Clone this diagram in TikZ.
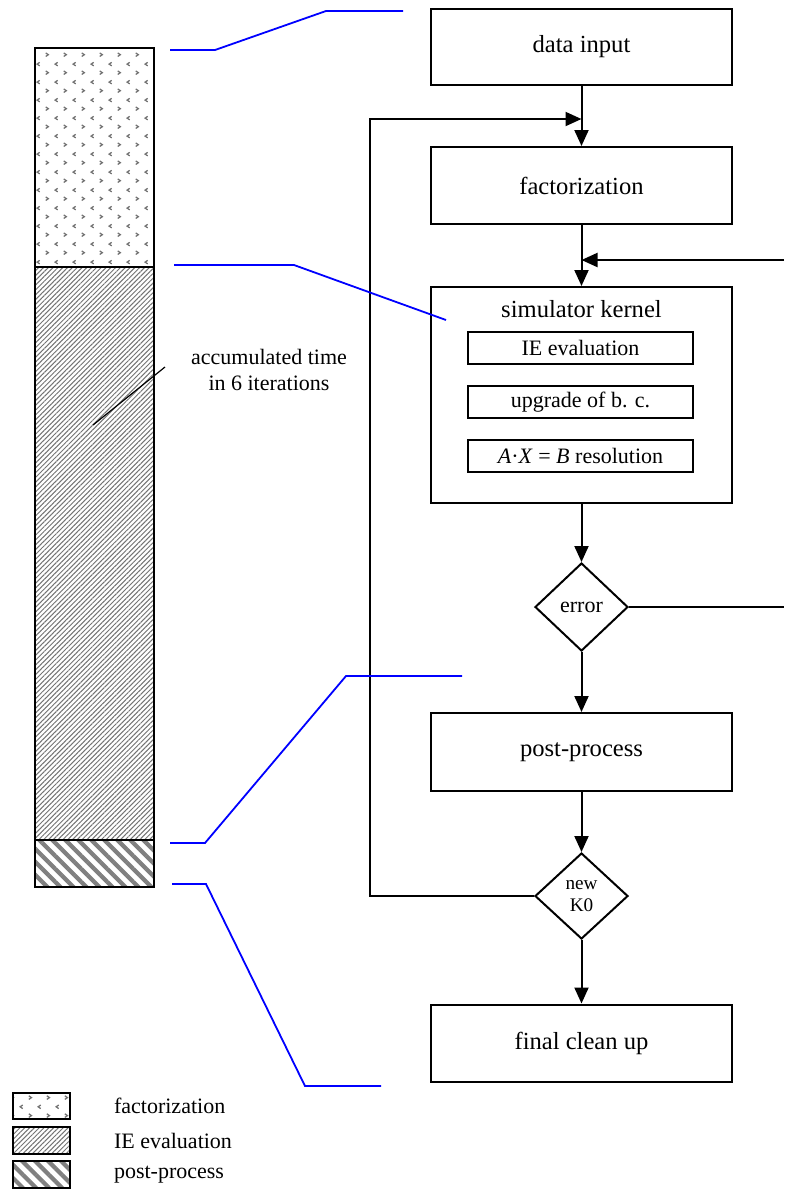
\documentclass[tikz,border=0pt]{standalone}
\usepackage{fontspec}
\setmainfont{Liberation Serif}
\usetikzlibrary{shapes.geometric,arrows.meta,patterns.meta}

% small < > marks for the factorization share
\tikzdeclarepattern{
  name=divots,
  type=uncolored,
  bounding box={(0pt,0pt) and (8.8pt,8.8pt)},
  tile size={(8.8pt,8.8pt)},
  code={
    \draw[line width=0.65pt] (2.4pt,8pt) -- (1.1pt,7.1pt) -- (2.4pt,6.2pt);
    \draw[line width=0.65pt] (5.5pt,3.6pt) -- (6.8pt,2.7pt) -- (5.5pt,1.8pt);
  }
}

\tikzset{
  stepbox/.style={draw, line width=1pt, minimum width=150.5pt, inner sep=0pt,
    font=\fontsize{12.3}{14}\selectfont},
  subbox/.style={draw, line width=1pt, minimum width=112.5pt, minimum height=16pt,
    inner sep=0pt, font=\fontsize{11}{13}\selectfont},
  test/.style={draw, diamond, line width=1pt, minimum width=46.5pt, minimum height=44pt,
    inner sep=0pt, align=center, font=\fontsize{11}{13}\selectfont},
  flow/.style={line width=1pt, -{Triangle[length=8pt,width=7pt]}},
  callout/.style={blue, line width=0.9pt},
  factfill/.style={pattern=divots, pattern color=black!55},
  iefill/.style={pattern={Lines[angle=45,distance=1.7pt,line width=0.5pt]}, pattern color=black!55},
  postfill/.style={pattern={Lines[angle=-45,distance=4.6pt,line width=2.1pt]}, pattern color=black!50},
  legtext/.style={anchor=west, font=\fontsize{11}{13}\selectfont},
}

\begin{document}
\begin{tikzpicture}[x=0.5pt,y=-0.5pt]
  \useasboundingbox (0,0) rectangle (784,1191);

  % time bar
  \draw[factfill, line width=1.1pt] (35,48) rectangle (154,267);
  \draw[iefill, line width=1.1pt] (35,267) rectangle (154,840);
  \draw[postfill, line width=1.1pt] (35,840) rectangle (154,887);
  \node[align=center, font=\fontsize{11}{13}\selectfont] (accum) at (269,370) {accumulated time\\in 6 iterations};
  \draw[line width=0.6pt] (93,425) -- (165,367);

  % flow chart
  \node[stepbox, minimum height=38pt] (input) at (581.5,47) {data input};
  \node[stepbox, minimum height=38.5pt] (fact) at (581.5,185.5) {factorization};
  \node[stepbox, minimum height=108pt] (kernel) at (581.5,395) {};
  \node[font=\fontsize{12.3}{14}\selectfont] (kname) at (581.5,309) {simulator kernel};
  \node[subbox] (ie) at (580.5,348) {IE evaluation};
  \node[subbox] (bc) at (580.5,402) {upgrade of b. c.};
  \node[subbox] (axb) at (580.5,455.5) {\textit{A}·\textit{X} = \textit{B} resolution};
  \node[test] (err) at (581.5,607) {error};
  \node[stepbox, minimum height=39pt] (post) at (581.5,752) {post-process};
  \node[test, minimum height=43pt, font=\fontsize{9.6}{11}\selectfont] (newk) at (581.5,896) {new\\K0};
  \node[stepbox, minimum height=38.5pt] (clean) at (581.5,1043) {final clean up};

  \coordinate (loopin) at (581.5,119);
  \coordinate (loopx) at (370,119);
  \coordinate (kin) at (581.5,260);
  \coordinate (retin) at (784,260);
  \coordinate (errout) at (784,607);

  \draw[flow] (input.south) -- (fact.north);
  \draw[flow] (fact.south) -- (kernel.north);
  \draw[flow] (kernel.south) -- (err.north);
  \draw[flow] (err.south) -- (post.north);
  \draw[flow] (post.south) -- (newk.north);
  \draw[flow] (newk.south) -- (clean.north);
  \draw[flow] (newk.west) -| (loopx) -- (loopin);
  \draw[line width=1pt] (err.east) -- (errout);
  \draw[flow] (retin) -- (kin);

  % callouts from the bar to the steps
  \draw[callout] (170,50) -- (215,50) -- (326,11) -- (403,11);
  \draw[callout] (174,265) -- (294,265) -- (446,320);
  \draw[callout] (170,843) -- (205,843) -- (346,676) -- (462,676);
  \draw[callout] (172,884) -- (206,884) -- (305,1086) -- (381,1086);

  % legend
  \draw[factfill, line width=1.1pt] (13,1093) rectangle (70,1119);
  \draw[iefill, line width=1.1pt] (13,1127) rectangle (70,1154);
  \draw[postfill, line width=1.1pt] (13,1161) rectangle (70,1188);
  \node[legtext] (lfact) at (107,1106) {factorization};
  \node[legtext] (lie) at (107,1140.5) {IE evaluation};
  \node[legtext] (lpost) at (107,1174.5) {post-process};
\end{tikzpicture}
\end{document}
